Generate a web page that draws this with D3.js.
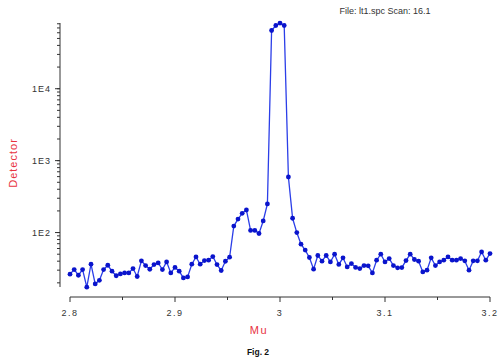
<!DOCTYPE html>
<html>
<head>
<meta charset="utf-8">
<script src="https://cdn.jsdelivr.net/npm/d3@7"></script>
<style>
  body { margin: 0; background: #fff; }
  text { font-family: "Liberation Sans", Arial, sans-serif; }
</style>
</head>
<body>
<div id="chart"></div>
<script>
const width = 498;
const height = 364;

// x start and step of the scan (101 points, 2.800 .. 3.200)
const muStart = 2.8;
const muStep = 0.004;

// detector counts
const detector = [
  26.4, 30.6, 25.5, 30.6, 17.4, 36.3, 19.3, 21.7, 30.6, 35.1,
  29, 25.1, 26.6, 27.5, 27.5, 31.6, 24.5, 40.4, 34.8, 30.9,
  35.9, 37.8, 30.6, 39.1, 27.5, 32.7, 29, 23.4, 24.2, 36.3,
  45.8, 36.3, 40.8, 41.3, 46.4, 35.9, 29.7, 39.9, 45.4, 123,
  154, 185, 206, 107, 107, 97, 145, 250, 64500, 75700,
  81700, 75700, 592, 158, 100, 69, 57, 45, 31, 48,
  40, 48, 39, 50, 36, 44.5, 33.3, 37, 32.7, 31.6,
  34.8, 34.5, 27.5, 41.3, 50, 39, 43.5, 34.8, 32.3, 32.6,
  40.8, 50, 42.2, 40, 28.4, 30, 44.5, 34.8, 39, 41.3,
  45.8, 41.3, 41.3, 43.5, 40.4, 30, 40.4, 40.4, 53.8, 41.3,
  51
];

const xTicks = [2.8, 2.9, 3.0, 3.1, 3.2];
const xTickLabels = ["2.8", "2.9", "3", "3.1", "3.2"];
const xMinorTicks = [2.85, 2.95, 3.05, 3.15];
const yTicks = [100, 1000, 10000];
const yTickLabels = ["1E2", "1E3", "1E4"];

const points = detector.map((v, i) => ({ x: muStart + i * muStep, y: v }));

const x = d3.scaleLinear().domain([2.8, 3.2]).range([70, 490]);
const y = d3.scaleLog().domain([17.5, 82000]).range([287, 23]);

const svg = d3.select("#chart").append("svg")
    .attr("width", width)
    .attr("height", height);

// x axis
const xAxis = svg.append("g").attr("transform", "translate(0,297)");
xAxis.append("line")
    .attr("x1", 70).attr("x2", 490)
    .attr("stroke", "#333").attr("stroke-width", 1);
xAxis.selectAll(".maj").data(xTicks).join("line")
    .attr("x1", d => x(d)).attr("x2", d => x(d))
    .attr("y1", 0).attr("y2", 5)
    .attr("stroke", "#333");
xAxis.selectAll(".min").data(xMinorTicks).join("line")
    .attr("x1", d => x(d)).attr("x2", d => x(d))
    .attr("y1", 0).attr("y2", 3)
    .attr("stroke", "#333");
xAxis.selectAll("text").data(xTicks).join("text")
    .attr("x", d => x(d))
    .attr("y", 19)
    .attr("text-anchor", "middle")
    .attr("font-size", 9)
    .attr("letter-spacing", 1.5)
    .attr("fill", "#333")
    .text((d, i) => xTickLabels[i]);

// y axis
const yAxis = svg.append("g").attr("transform", "translate(60,0)");
yAxis.append("line")
    .attr("y1", 23).attr("y2", 287)
    .attr("stroke", "#333");
const minor = y.ticks().filter(d => d >= 17.5 && d <= 82000);
yAxis.selectAll(".min").data(minor).join("line")
    .attr("x1", -3).attr("x2", 0)
    .attr("y1", d => y(d)).attr("y2", d => y(d))
    .attr("stroke", "#333");
yAxis.selectAll(".maj").data(yTicks).join("line")
    .attr("x1", -5).attr("x2", 0)
    .attr("y1", d => y(d)).attr("y2", d => y(d))
    .attr("stroke", "#333");
yAxis.selectAll("text").data(yTicks).join("text")
    .attr("x", -9)
    .attr("y", d => y(d) + 3)
    .attr("text-anchor", "end")
    .attr("font-size", 9)
    .attr("letter-spacing", 1)
    .attr("fill", "#333")
    .text((d, i) => yTickLabels[i]);

// data line
const line = d3.line().x(d => x(d.x)).y(d => y(d.y));
svg.append("path")
    .datum(points)
    .attr("fill", "none")
    .attr("stroke", "#2b3ee8")
    .attr("stroke-width", 1.3)
    .attr("d", line);
svg.append("g")
    .selectAll("circle")
    .data(points)
    .join("circle")
    .attr("cx", d => x(d.x))
    .attr("cy", d => y(d.y))
    .attr("r", 2.4)
    .attr("fill", "#0a14cc");

// labels
svg.append("text")
    .attr("x", 385).attr("y", 14)
    .attr("text-anchor", "middle")
    .attr("font-size", 9)
    .attr("fill", "#333")
    .text("File: lt1.spc Scan: 16.1");

svg.append("text")
    .attr("transform", "translate(17,163) rotate(-90)")
    .attr("text-anchor", "middle")
    .attr("font-size", 11)
    .attr("letter-spacing", 1)
    .attr("fill", "#e8333f")
    .text("Detector");

svg.append("text")
    .attr("x", 259).attr("y", 334)
    .attr("text-anchor", "middle")
    .attr("font-size", 11)
    .attr("letter-spacing", 1.5)
    .attr("fill", "#e8333f")
    .text("Mu");

svg.append("text")
    .attr("x", 258).attr("y", 355)
    .attr("text-anchor", "middle")
    .attr("font-size", 8.5)
    .attr("font-weight", "bold")
    .attr("fill", "#111")
    .text("Fig. 2");
</script>
</body>
</html>
